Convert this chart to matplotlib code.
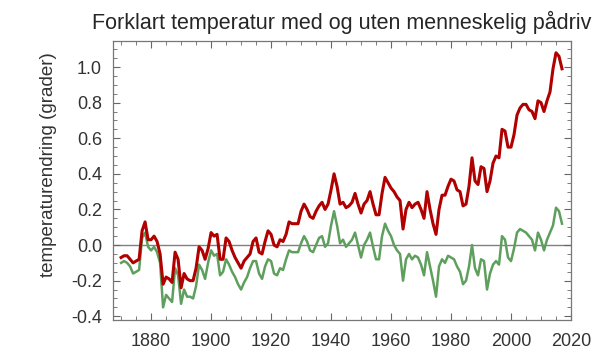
import matplotlib
matplotlib.use("Agg")
import matplotlib.pyplot as plt
from matplotlib.ticker import MultipleLocator, FormatStrFormatter

plt.rcParams['font.family'] = ['Liberation Sans', 'DejaVu Sans']
plt.rcParams['axes.unicode_minus'] = True

START_YEAR = 1870
END_YEAR = 2017
years = list(range(START_YEAR, END_YEAR + 1))

with_human = [
    -0.07, -0.06, -0.06, -0.08, -0.10, -0.09, -0.08, 0.08, 0.13, 0.03,   # 1870-1879
    0.03, 0.05, 0.02, -0.05, -0.22, -0.18, -0.19, -0.21, -0.04, -0.08,   # 1880-1889
    -0.24, -0.16, -0.19, -0.20, -0.20, -0.13, -0.01, -0.03, -0.08, -0.02,  # 1890-1899
    0.07, 0.05, 0.06, -0.08, -0.08, 0.04, 0.02, -0.03, -0.07, -0.10,     # 1900-1909
    -0.13, -0.09, -0.07, -0.05, 0.02, 0.04, -0.04, -0.05, 0.02, 0.08,    # 1910-1919
    0.06, 0.00, -0.01, 0.03, 0.02, 0.06, 0.13, 0.12, 0.12, 0.12,         # 1920-1929
    0.19, 0.23, 0.20, 0.16, 0.15, 0.19, 0.22, 0.24, 0.20, 0.23,          # 1930-1939
    0.31, 0.40, 0.33, 0.23, 0.24, 0.21, 0.22, 0.24, 0.29, 0.23,          # 1940-1949
    0.18, 0.23, 0.25, 0.30, 0.23, 0.17, 0.17, 0.29, 0.38, 0.35,          # 1950-1959
    0.32, 0.30, 0.27, 0.25, 0.09, 0.20, 0.24, 0.21, 0.23, 0.24,          # 1960-1969
    0.20, 0.15, 0.30, 0.20, 0.12, 0.06, 0.20, 0.28, 0.28, 0.33,          # 1970-1979
    0.37, 0.36, 0.31, 0.30, 0.22, 0.23, 0.33, 0.49, 0.36, 0.34,          # 1980-1989
    0.44, 0.43, 0.30, 0.36, 0.46, 0.50, 0.49, 0.65, 0.64, 0.55,          # 1990-1999
    0.55, 0.62, 0.73, 0.77, 0.79, 0.79, 0.76, 0.75, 0.71, 0.81,          # 2000-2009
    0.80, 0.75, 0.81, 0.86, 0.99, 1.08, 1.06, 0.99,                      # 2010-2017
]

# Temperature without human forcing
without_human = [
    -0.10, -0.09, -0.10, -0.12, -0.16, -0.15, -0.14, 0.04, 0.07, -0.01,  # 1870-1879
    -0.03, -0.01, -0.04, -0.10, -0.35, -0.28, -0.30, -0.32, -0.13, -0.17,  # 1880-1889
    -0.33, -0.25, -0.29, -0.29, -0.30, -0.23, -0.11, -0.14, -0.19, -0.10,  # 1890-1899
    -0.03, -0.06, -0.05, -0.17, -0.15, -0.08, -0.11, -0.15, -0.18, -0.22,  # 1900-1909
    -0.25, -0.21, -0.18, -0.13, -0.09, -0.09, -0.16, -0.19, -0.12, -0.08,  # 1910-1919
    -0.09, -0.16, -0.17, -0.13, -0.14, -0.08, -0.03, -0.04, -0.04, -0.04,  # 1920-1929
    0.01, 0.05, 0.02, -0.03, -0.04, 0.00, 0.04, 0.05, -0.01, 0.01,       # 1930-1939
    0.11, 0.19, 0.11, 0.01, 0.03, -0.01, 0.01, 0.03, 0.07, 0.00,         # 1940-1949
    -0.07, 0.00, 0.03, 0.07, -0.01, -0.08, -0.08, 0.05, 0.12, 0.08,      # 1950-1959
    0.05, 0.00, -0.03, -0.05, -0.20, -0.08, -0.05, -0.08, -0.06, -0.07,  # 1960-1969
    -0.11, -0.17, -0.04, -0.12, -0.20, -0.29, -0.12, -0.08, -0.10, -0.06,  # 1970-1979
    -0.07, -0.08, -0.12, -0.15, -0.22, -0.20, -0.12, 0.00, -0.13, -0.17,  # 1980-1989
    -0.08, -0.09, -0.25, -0.16, -0.11, -0.09, -0.11, 0.05, 0.03, -0.07,  # 1990-1999
    -0.09, -0.02, 0.07, 0.09, 0.08, 0.07, 0.05, 0.03, -0.03, 0.07,       # 2000-2009
    0.03, -0.03, 0.03, 0.07, 0.11, 0.21, 0.19, 0.12,                     # 2010-2017
]

TITLE = "Forklart temperatur med og uten menneskelig pådriv"
YLABEL = "temperaturendring (grader)"

fig = plt.figure(figsize=(6.02, 3.56), dpi=100)
ax = fig.add_axes([0.1877, 0.1011, 0.7608, 0.7837])

ax.axhline(0, color="#808080", lw=1.0, zorder=1)
ax.plot(years, without_human, color="#5e9f5e", lw=1.8, zorder=2)
ax.plot(years, with_human, color="#b00000", lw=2.2, zorder=3)

ax.set_xlim(1867.3, 2020)
ax.set_ylim(-0.421, 1.146)

ax.xaxis.set_major_locator(MultipleLocator(20))
ax.xaxis.set_minor_locator(MultipleLocator(5))
ax.yaxis.set_major_locator(MultipleLocator(0.2))
ax.yaxis.set_minor_locator(MultipleLocator(0.05))
ax.yaxis.set_major_formatter(FormatStrFormatter("%.1f"))

ax.tick_params(which="both", direction="in", top=True, right=True,
               color="#666666", labelcolor="#333333", labelsize=13)
ax.tick_params(which="major", length=5, width=0.8)
ax.tick_params(which="minor", length=3, width=0.6)
ax.tick_params(axis="y", pad=8)
ax.tick_params(axis="x", pad=9)

for s in ax.spines.values():
    s.set_color("#777777")
    s.set_linewidth(0.9)

ax.set_title(TITLE, fontsize=15.5, color="#262626", pad=9)
ax.set_ylabel(YLABEL, fontsize=13.5, color="#333333")
ax.yaxis.set_label_coords(-0.122, 0.556)

fig.savefig("out.png", dpi=100)
